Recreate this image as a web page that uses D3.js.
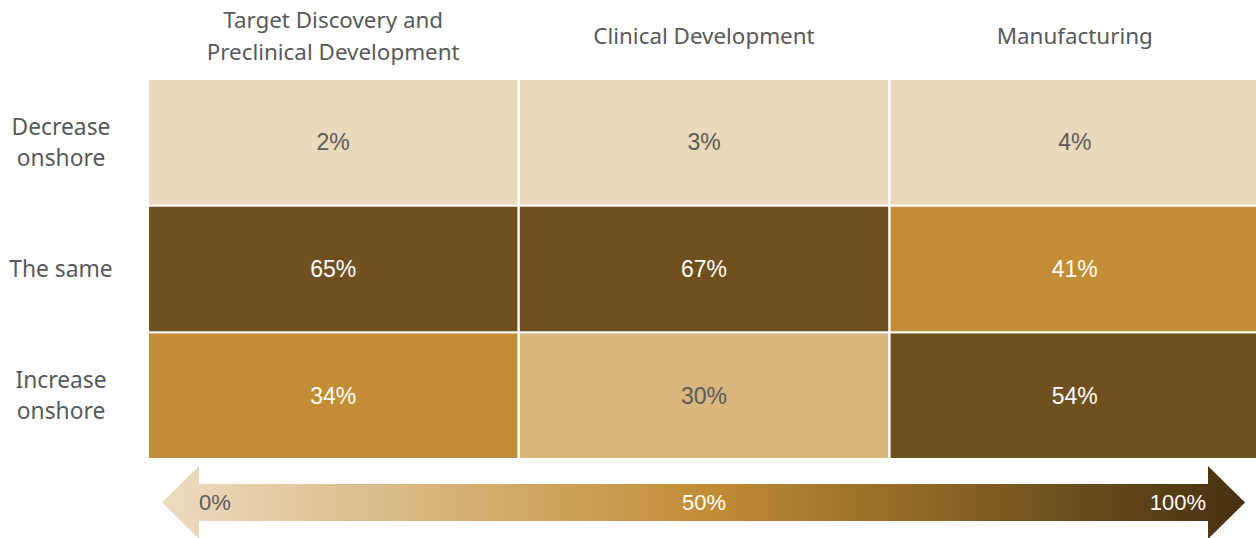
<!DOCTYPE html>
<html>
<head>
<meta charset="utf-8">
<script src="https://cdn.jsdelivr.net/npm/d3@7"></script>
<style>
  html, body { margin: 0; padding: 0; background: #fff; }
  svg { display: block; }
</style>
</head>
<body>
<svg id="chart" width="1256" height="538"></svg>
<script>
// Stages of the pipeline (columns) and expected change in onshore activity (rows)
const stages = ["Target Discovery and\nPreclinical Development", "Clinical Development", "Manufacturing"];
const changes = ["Decrease\nonshore", "The same", "Increase\nonshore"];

// Share of respondents, in percent, one array per row
const decreaseOnshore = [2, 3, 4];
const theSame = [65, 67, 41];
const increaseOnshore = [34, 30, 54];

// Legend ticks along the arrow
const legendTicks = [0, 50, 100];

const rowsValues = [decreaseOnshore, theSame, increaseOnshore];
const cells = [];
rowsValues.forEach((vals, r) => vals.forEach((v, c) => cells.push({ row: changes[r], col: stages[c], value: v })));

const svg = d3.select("#chart");
const labelFont = "'Noto Sans', Roboto, sans-serif";
const valueFont = "'Liberation Sans', Arial, sans-serif";
const grey = "#595959";

const x = d3.scaleBand().domain(stages).range([149, 1259]).paddingInner(0.0065);
const y = d3.scaleBand().domain(changes).range([80, 458]).paddingInner(0.017);

// Binned fill colours
const fill = d3.scaleThreshold()
  .domain([20, 32, 50])
  .range(["#ead9bb", "#dab57c", "#c38d36", "#70501f"]);
const textFill = d3.scaleThreshold()
  .domain([33])
  .range([grey, "#ffffff"]);

// Cells
const g = svg.append("g");
g.selectAll("rect").data(cells).join("rect")
  .attr("x", d => x(d.col))
  .attr("y", d => y(d.row))
  .attr("width", x.bandwidth())
  .attr("height", y.bandwidth())
  .attr("fill", d => fill(d.value));

g.selectAll("text.val").data(cells).join("text")
  .attr("class", "val")
  .attr("x", d => x(d.col) + x.bandwidth() / 2)
  .attr("y", d => y(d.row) + y.bandwidth() / 2)
  .attr("dy", "0.35em")
  .attr("text-anchor", "middle")
  .attr("font-family", valueFont)
  .attr("font-size", 23)
  .attr("fill", d => textFill(d.value))
  .text(d => d.value + "%");

// Column headers (multi-line)
const lineH = 32;
svg.append("g").selectAll("text").data(stages).join("text")
  .attr("text-anchor", "middle")
  .attr("font-family", labelFont)
  .attr("font-size", 22.4)
  .attr("fill", grey)
  .each(function (d) {
    const lines = d.split("\n");
    const t = d3.select(this);
    const cx = x(d) + x.bandwidth() / 2;
    const y0 = 44 - (lines.length - 1) * lineH / 2;
    lines.forEach((ln, i) => t.append("tspan").attr("x", cx).attr("y", y0 + i * lineH).text(ln));
  });

// Row labels (multi-line)
svg.append("g").selectAll("text").data(changes).join("text")
  .attr("text-anchor", "middle")
  .attr("font-family", labelFont)
  .attr("font-size", 22.8)
  .attr("fill", grey)
  .each(function (d) {
    const lines = d.split("\n");
    const t = d3.select(this);
    const cy = y(d) + y.bandwidth() / 2;
    const y0 = cy + 8 - (lines.length - 1) * 31 / 2;
    lines.forEach((ln, i) => t.append("tspan").attr("x", 61).attr("y", y0 + i * 31).text(ln));
  });

// Double-headed gradient arrow as colour legend
const lx = d3.scaleLinear().domain([0, 100]).range([162, 1245]);
const defs = svg.append("defs");
const grad = defs.append("linearGradient").attr("id", "legendGrad")
  .attr("gradientUnits", "userSpaceOnUse")
  .attr("x1", lx(0)).attr("x2", lx(100)).attr("y1", 0).attr("y2", 0);
const legendColor = d3.scaleLinear().domain([0, 50, 100])
  .range(["#ecdcc0", "#c38d36", "#45300f"]);
d3.range(0, 101, 10).forEach(p => grad.append("stop")
  .attr("offset", p + "%").attr("stop-color", legendColor(p)));

const bodyTop = 484, bodyBot = 521, headTop = 466, headBot = 539, midY = 502.5;
const headL = 199, headR = 1208;
const arrow = d3.path();
arrow.moveTo(lx(0), midY);
arrow.lineTo(headL, headTop);
arrow.lineTo(headL, bodyTop);
arrow.lineTo(headR, bodyTop);
arrow.lineTo(headR, headTop);
arrow.lineTo(lx(100), midY);
arrow.lineTo(headR, headBot);
arrow.lineTo(headR, bodyBot);
arrow.lineTo(headL, bodyBot);
arrow.lineTo(headL, headBot);
arrow.closePath();
svg.append("path").attr("d", arrow.toString()).attr("fill", "url(#legendGrad)");

svg.append("g").selectAll("text").data(legendTicks).join("text")
  .attr("x", d => d === 0 ? 199 : d === 100 ? 1206 : (x(stages[1]) + x.bandwidth() / 2))
  .attr("y", midY)
  .attr("dy", "0.35em")
  .attr("text-anchor", d => d === 0 ? "start" : d === 100 ? "end" : "middle")
  .attr("font-family", valueFont)
  .attr("font-size", 22)
  .attr("fill", d => d === 0 ? grey : "#ffffff")
  .text(d => d + "%");
</script>
</body>
</html>
